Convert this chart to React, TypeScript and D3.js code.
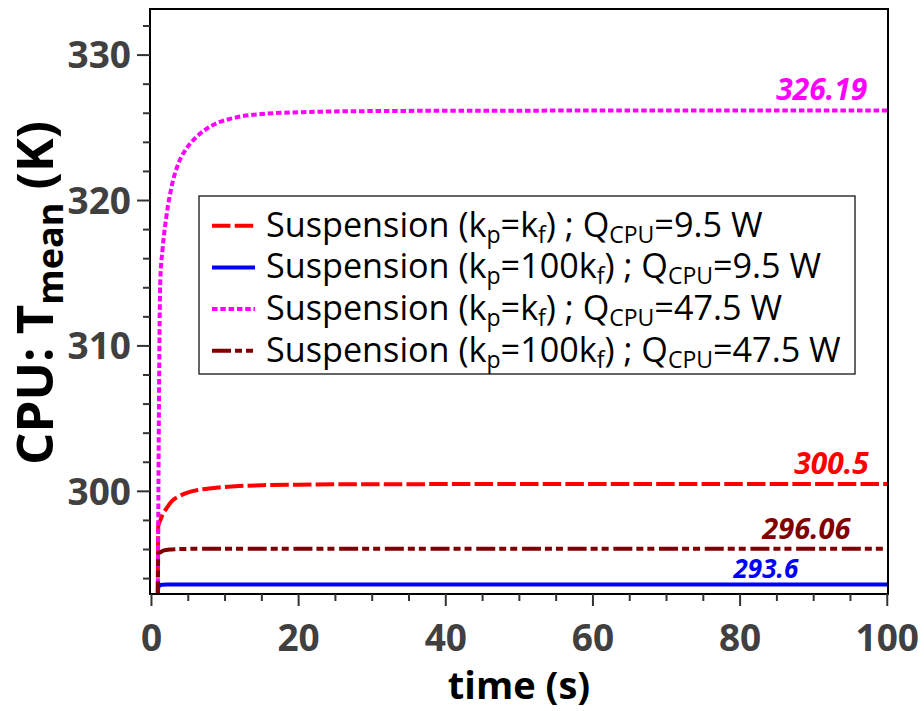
import React from 'react';
import * as d3 from 'd3';

// ---- data ----
const times = [0.86, 0.92, 1.2, 1.5, 2, 2.8, 3.7, 4.8, 6.4, 8.2, 11.4, 15, 20, 30, 50, 100];
const tempRed = [292.5, 297.6, 298.0, 298.4, 298.8, 299.35, 299.65, 299.9, 300.1, 300.22, 300.35, 300.42, 300.46, 300.49, 300.5, 300.5];
const tempBlue = [292.5, 293.4, 293.55, 293.58, 293.6, 293.6, 293.6, 293.6, 293.6, 293.6, 293.6, 293.6, 293.6, 293.6, 293.6, 293.6];
const tempMagenta = [292.5, 298.0, 314.5, 316.6, 318.8, 321.1, 322.6, 323.6, 324.5, 325.15, 325.7, 325.95, 326.07, 326.15, 326.18, 326.19];
const tempDarkRed = [292.5, 295.7, 295.8, 295.9, 295.97, 296.0, 296.03, 296.04, 296.05, 296.05, 296.06, 296.06, 296.06, 296.06, 296.06, 296.06];

const seriesValues = [tempRed, tempBlue, tempMagenta, tempDarkRed];
const seriesColors = ['#ff0000', '#0000ff', '#ff00ff', '#800000'];
const seriesDash = ['18.5 4.2', '', '5.5 2.8', '19 4 7 4 7 4.7'];
const legendQ = ['9.5 W', '9.5 W', '47.5 W', '47.5 W'];
const legendK = ['k', '100k', 'k', '100k'];

const endLabels = ['300.5', '293.6', '326.19', '296.06'];
const endLabelX = [97.5, 87.9, 97.3, 95.0];
const endLabelOffset = [10, 6, 10, 10];
const endLabelSize = [30, 26, 30, 29];

const xTicks = [0, 20, 40, 60, 80, 100];
const yTicks = [300, 310, 320, 330];

const W = 924;
const H = 711;
const L = 150, R = 888, T = 9, B = 594;

export default function App() {
  const x = d3.scaleLinear().domain([-0.2, 100.1]).range([L, R]);
  const y = d3.scaleLinear().domain([292.94, 333.17]).range([B, T]);
  const line = d3
    .line<number>()
    .x((_, i) => x(times[i]))
    .y((d) => y(d))
    .curve(d3.curveMonotoneX);

  const xMinor = d3.range(5, 100, 5).filter((v) => v % 20 !== 0);
  const yMinor = d3.range(294, 333, 2).filter((v) => v % 10 !== 0);
  const font = "'Open Sans', 'Noto Sans', sans-serif";

  const legX = 199, legY = 196, legW = 656, legH = 178;
  const rowY = [236.7, 278.4, 320.1, 361.8];
  const subSize = 23;
  const subDy = 6;

  return (
    <svg
      width={W}
      height={H}
      style={{ position: 'absolute', left: 0, top: 0, background: '#fff' }}
      fontFamily={font}
    >
      <defs>
        <clipPath id="plotclip">
          <rect x={L} y={T} width={R - L} height={B - T} />
        </clipPath>
      </defs>
      <rect x={0} y={0} width={W} height={H} fill="#fff" />

      {/* lines */}
      <g clipPath="url(#plotclip)">
        {seriesValues.map((vals, i) => (
          <path
            key={i}
            d={line(vals) || ''}
            fill="none"
            stroke={seriesColors[i]}
            strokeWidth={4}
            strokeDasharray={seriesDash[i] || undefined}
          />
        ))}
      </g>

      {/* end labels */}
      {endLabels.map((t, i) => (
        <text
          key={i}
          x={x(endLabelX[i])}
          y={y(seriesValues[i][seriesValues[i].length - 1]) - endLabelOffset[i]}
          textAnchor="end"
          fontSize={endLabelSize[i]}
          fontWeight="bold"
          fontStyle="italic"
          fill={seriesColors[i]}
        >
          {t}
        </text>
      ))}

      {/* frame */}
      <rect x={L} y={T} width={R - L} height={B - T} fill="none" stroke="#000" strokeWidth={2} />

      {/* x ticks */}
      {xTicks.map((v) => (
        <line key={'xt' + v} x1={x(v)} x2={x(v)} y1={B} y2={B + 12} stroke="#333" strokeWidth={2} />
      ))}
      {xMinor.map((v) => (
        <line key={'xm' + v} x1={x(v)} x2={x(v)} y1={B} y2={B + 7} stroke="#333" strokeWidth={2} />
      ))}
      {xTicks.map((v) => (
        <text
          key={'xl' + v}
          x={x(v)}
          y={651}
          textAnchor="middle"
          fontSize={37}
          fontWeight="bold"
          fill="#404040"
        >
          {v}
        </text>
      ))}

      {/* y ticks */}
      {yTicks.map((v) => (
        <line key={'yt' + v} x1={L - 13} x2={L} y1={y(v)} y2={y(v)} stroke="#333" strokeWidth={2} />
      ))}
      {yMinor.map((v) => (
        <line key={'ym' + v} x1={L - 7} x2={L} y1={y(v)} y2={y(v)} stroke="#333" strokeWidth={2} />
      ))}
      {yTicks.map((v) => (
        <text
          key={'yl' + v}
          x={131}
          y={y(v)}
          dy="0.36em"
          textAnchor="end"
          fontSize={37}
          fontWeight="bold"
          fill="#404040"
        >
          {v}
        </text>
      ))}

      {/* axis titles */}
      <text x={(L + R) / 2} y={699} textAnchor="middle" fontSize={38} fontWeight="bold" fill="#000">
        time (s)
      </text>
      <text
        transform={`translate(53, 293) rotate(-90)`}
        textAnchor="middle"
        fontSize={51}
        fontWeight="bold"
        fill="#000"
      >
        CPU: T
        <tspan fontSize={36} dy={10}>mean</tspan>
        <tspan dy={-10}> (K)</tspan>
      </text>

      {/* legend */}
      <rect x={legX} y={legY} width={legW} height={legH} fill="#fff" stroke="#333" strokeWidth={1.5} />
      {seriesColors.map((c, i) => (
        <g key={'lg' + i}>
          <line
            x1={212}
            x2={255}
            y1={rowY[i] - 11}
            y2={rowY[i] - 11}
            stroke={c}
            strokeWidth={4}
            strokeDasharray={seriesDash[i] || undefined}
          />
          <text x={266} y={rowY[i]} fontSize={34.2} fill="#000">
            Suspension ({'k'}
            <tspan fontSize={subSize} dy={subDy}>p</tspan>
            <tspan dy={-subDy}>={legendK[i]}</tspan>
            <tspan fontSize={subSize} dy={subDy}>f</tspan>
            <tspan dy={-subDy}>) ; Q</tspan>
            <tspan fontSize={subSize} dy={subDy}>CPU</tspan>
            <tspan dy={-subDy}>={legendQ[i]}</tspan>
          </text>
        </g>
      ))}
    </svg>
  );
}
